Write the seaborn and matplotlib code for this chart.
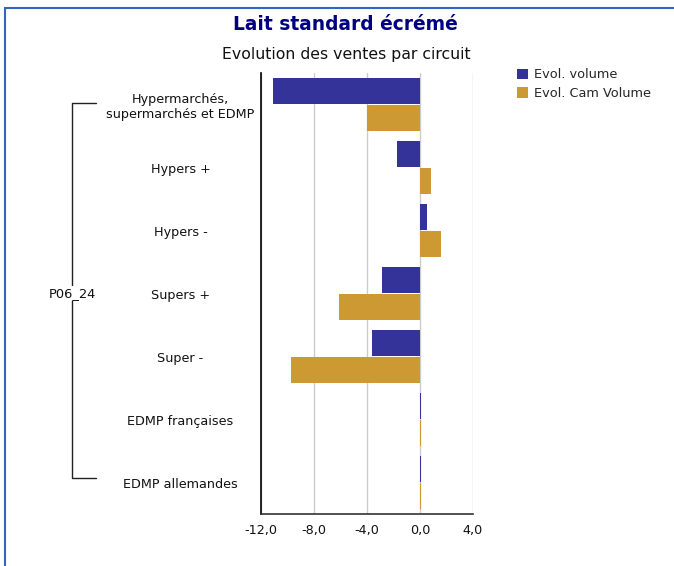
import matplotlib
matplotlib.use("Agg")
import matplotlib.pyplot as plt
import matplotlib.transforms as mtransforms
from matplotlib.lines import Line2D
from matplotlib.patches import Patch
import seaborn as sns
import pandas as pd

categories = ["Hypermarchés,\nsupermarchés et EDMP", "Hypers +", "Hypers -",
              "Supers +", "Super -", "EDMP françaises", "EDMP allemandes"]
evol_volume = [-11.1, -1.7, 0.5, -2.9, -3.65, 0.08, 0.08]
evol_cam_volume = [-4.0, 0.85, 1.6, -6.15, -9.75, 0.08, 0.08]
series_names = ["Evol. volume", "Evol. Cam Volume"]
group_label = "P06_24"
xticks = [-12, -8, -4, 0, 4]
title = "Lait standard écrémé"
subtitle = "Evolution des ventes par circuit"

df = pd.DataFrame({
    "cat": categories * 2,
    "val": evol_volume + evol_cam_volume,
    "series": [series_names[0]] * len(categories) + [series_names[1]] * len(categories),
})

sns.set_theme(style="white")
plt.rcParams["font.family"] = ["DejaVu Sans"]

W, H = 674, 566
fig = plt.figure(figsize=(W / 100, H / 100), dpi=100)
ax = fig.add_axes([261 / W, 1 - 514 / H, (473 - 261) / W, (514 - 73) / H])

colors = {series_names[0]: "#333399", series_names[1]: "#CC9933"}
sns.barplot(data=df, x="val", y="cat", hue="series", orient="h", palette=colors,
            width=0.86, gap=0.06, saturation=1, ax=ax, legend=False,
            linewidth=0, edgecolor="none")

ax.set_xlim(-12, 4)
ax.set_xticks(xticks)
ax.set_xticklabels([f"{v:.1f}".replace(".", ",") for v in xticks], fontsize=9.2, color="#111111")
ax.xaxis.grid(True, color="#cccccc", linewidth=1)
ax.set_axisbelow(True)
ax.set_xlabel("")
ax.set_ylabel("")
for s in ["top", "right"]:
    ax.spines[s].set_visible(False)
ax.spines["left"].set_color("black")
ax.spines["left"].set_linewidth(1.2)
ax.spines["bottom"].set_color("#333333")
ax.spines["bottom"].set_linewidth(1.2)
ax.tick_params(axis="x", length=0, pad=7)
ax.tick_params(axis="y", length=0, pad=58)
for lbl in ax.get_yticklabels():
    lbl.set_horizontalalignment("center")
    lbl.set_fontsize(9.2)
    lbl.set_color("#111111")

# bracket for the group label
trans = mtransforms.blended_transform_factory(fig.transFigure, ax.transData)
bx, bx2 = 72 / W, 96 / W
n = len(categories)
ax.add_line(Line2D([bx2, bx, bx, bx2], [-0.03, -0.03, n - 1.07, n - 1.07], transform=trans,
                   color="#222222", linewidth=1, clip_on=False))
ax.text(bx, (n - 1) / 2, group_label, transform=trans, ha="center", va="center",
        fontsize=9.4, color="#111111",
        bbox=dict(facecolor="white", edgecolor="none", pad=1))

# titles
fig.text(345 / W, 1 - 25 / H, title, ha="center", va="center", fontsize=13.4,
         fontweight="bold", color="#000080")
fig.text(346 / W, 1 - 55 / H, subtitle, ha="center", va="center", fontsize=11.3,
         color="#111111")

# legend
handles = [Patch(facecolor=colors[s], edgecolor="none") for s in series_names]
fig.legend(handles, series_names, loc="upper left", bbox_to_anchor=(512 / W, 1 - 63 / H),
           frameon=False, fontsize=9.3, handlelength=0.85, handleheight=0.85,
           handletextpad=0.45, labelspacing=0.45, borderaxespad=0)

# frame border
fig.add_artist(Line2D([5 / W, 1], [1 - 8 / H, 1 - 8 / H], transform=fig.transFigure,
                      color="#2f66c0", linewidth=1.5))
fig.add_artist(Line2D([5 / W, 5 / W], [0, 1 - 8 / H], transform=fig.transFigure,
                      color="#2f66c0", linewidth=1.5))

fig.savefig("out.png", dpi=100)
